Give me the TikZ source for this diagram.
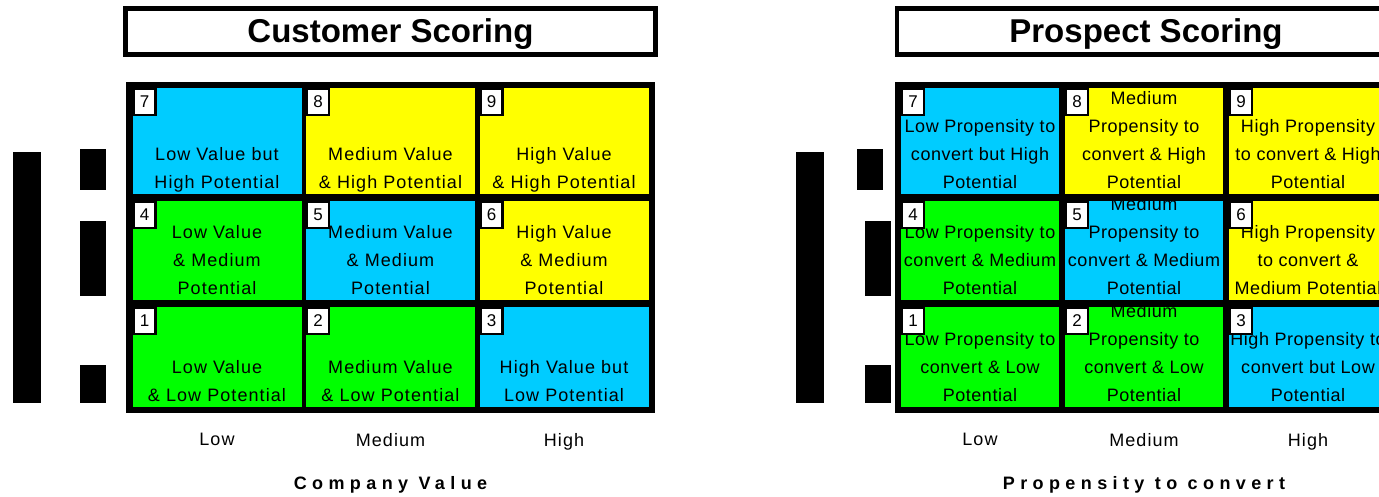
\documentclass[tikz,border=0pt]{standalone}
\usepackage{fontspec}
\setmainfont{Liberation Sans}
\newfontfamily\spacedfont[LetterSpace=30]{Liberation Sans}
\newfontfamily\custfont[LetterSpace=6]{Liberation Sans}
\newfontfamily\prosfont[LetterSpace=3]{Liberation Sans}
\usetikzlibrary{positioning}

\definecolor{skyblue}{RGB}{0,204,255}
\definecolor{scoregreen}{RGB}{0,255,0}
\definecolor{scoreyellow}{RGB}{255,255,0}

\begin{document}
\begin{tikzpicture}[x=1pt, y=-1pt,
  titlebox/.style={draw, line width=4.5pt, fill=white, minimum height=46pt, inner sep=0,
    text depth=2pt, font=\bfseries\fontsize{33}{38}\selectfont},
  custcell/.style={inner sep=0, minimum width=169pt},
  proscell/.style={inner sep=0, minimum width=158pt},
  hirow/.style={minimum height=106pt},
  midrow/.style={minimum height=99pt},
  lowrow/.style={minimum height=100pt},
  celltext/.style={anchor=south, inner sep=0, yshift=-2.4pt, align=center,
    font=\custfont\fontsize{18}{28}\selectfont, execute at end node=\strut},
  prostext/.style={celltext, font=\prosfont\fontsize{18}{28}\selectfont},
  numbox/.style={draw, line width=2.5pt, fill=white, inner sep=0, anchor=north west,
    minimum width=22pt, minimum height=26pt, font=\fontsize{17}{20}\selectfont},
  axislabel/.style={font=\custfont\fontsize{18}{22}\selectfont},
  axistitle/.style={font=\spacedfont\bfseries\fontsize{18}{22}\selectfont}]
  \useasboundingbox (0,0) rectangle (1379,496);

  % titles
  \node[titlebox, minimum width=530pt] (custtitle) at (390.5,31.5) {Customer Scoring};
  \node[titlebox, minimum width=498pt] (prostitle) at (1146,31.5) {Prospect Scoring};

  % grid frames
  \fill (126,82) rectangle (655,413);
  \fill (895,82) rectangle (1393,413);

  % customer grid
  \node[custcell, hirow, fill=skyblue] (cust7) at (217,141) {};
  \node[custcell, hirow, fill=scoreyellow] (cust8) at (390.5,141) {};
  \node[custcell, hirow, fill=scoreyellow] (cust9) at (564,141) {};
  \node[custcell, midrow, fill=scoregreen] (cust4) at (217,250.5) {};
  \node[custcell, midrow, fill=skyblue] (cust5) at (390.5,250.5) {};
  \node[custcell, midrow, fill=scoreyellow] (cust6) at (564,250.5) {};
  \node[custcell, lowrow, fill=scoregreen] (cust1) at (217,357) {};
  \node[custcell, lowrow, fill=scoregreen] (cust2) at (390.5,357) {};
  \node[custcell, lowrow, fill=skyblue] (cust3) at (564,357) {};

  \node[celltext] (cust7t) at (cust7.south) {Low Value but\\High Potential};
  \node[celltext] (cust8t) at (cust8.south) {Medium Value\\\& High Potential};
  \node[celltext] (cust9t) at (cust9.south) {High Value\\\& High Potential};
  \node[celltext] (cust4t) at (cust4.south) {Low Value\\\& Medium\\Potential};
  \node[celltext] (cust5t) at (cust5.south) {Medium Value\\\& Medium\\Potential};
  \node[celltext] (cust6t) at (cust6.south) {High Value\\\& Medium\\Potential};
  \node[celltext] (cust1t) at (cust1.south) {Low Value\\\& Low Potential};
  \node[celltext] (cust2t) at (cust2.south) {Medium Value\\\& Low Potential};
  \node[celltext] (cust3t) at (cust3.south) {High Value but\\Low Potential};

  \node[numbox] (cust7n) at (cust7.north west) {7};
  \node[numbox] (cust8n) at (cust8.north west) {8};
  \node[numbox] (cust9n) at (cust9.north west) {9};
  \node[numbox] (cust4n) at (cust4.north west) {4};
  \node[numbox] (cust5n) at (cust5.north west) {5};
  \node[numbox] (cust6n) at (cust6.north west) {6};
  \node[numbox] (cust1n) at (cust1.north west) {1};
  \node[numbox] (cust2n) at (cust2.north west) {2};
  \node[numbox] (cust3n) at (cust3.north west) {3};

  % prospect grid
  \node[proscell, hirow, fill=skyblue] (pros7) at (980,141) {};
  \node[proscell, hirow, fill=scoreyellow] (pros8) at (1144,141) {};
  \node[proscell, hirow, fill=scoreyellow] (pros9) at (1308,141) {};
  \node[proscell, midrow, fill=scoregreen] (pros4) at (980,250.5) {};
  \node[proscell, midrow, fill=skyblue] (pros5) at (1144,250.5) {};
  \node[proscell, midrow, fill=scoreyellow] (pros6) at (1308,250.5) {};
  \node[proscell, lowrow, fill=scoregreen] (pros1) at (980,357) {};
  \node[proscell, lowrow, fill=scoregreen] (pros2) at (1144,357) {};
  \node[proscell, lowrow, fill=skyblue] (pros3) at (1308,357) {};

  \node[prostext] (pros7t) at (pros7.south) {Low Propensity to\\convert but High\\Potential};
  \node[prostext] (pros8t) at (pros8.south) {Medium\\Propensity to\\convert \& High\\Potential};
  \node[prostext] (pros9t) at (pros9.south) {High Propensity\\to convert \& High\\Potential};
  \node[prostext] (pros4t) at (pros4.south) {Low Propensity to\\convert \& Medium\\Potential};
  \node[prostext] (pros5t) at (pros5.south) {Medium\\Propensity to\\convert \& Medium\\Potential};
  \node[prostext] (pros6t) at (pros6.south) {High Propensity\\to convert \&\\Medium Potential};
  \node[prostext] (pros1t) at (pros1.south) {Low Propensity to\\convert \& Low\\Potential};
  \node[prostext] (pros2t) at (pros2.south) {Medium\\Propensity to\\convert \& Low\\Potential};
  \node[prostext] (pros3t) at (pros3.south) {High Propensity to\\convert but Low\\Potential};

  \node[numbox] (pros7n) at (pros7.north west) {7};
  \node[numbox] (pros8n) at (pros8.north west) {8};
  \node[numbox] (pros9n) at (pros9.north west) {9};
  \node[numbox] (pros4n) at (pros4.north west) {4};
  \node[numbox] (pros5n) at (pros5.north west) {5};
  \node[numbox] (pros6n) at (pros6.north west) {6};
  \node[numbox] (pros1n) at (pros1.north west) {1};
  \node[numbox] (pros2n) at (pros2.north west) {2};
  \node[numbox] (pros3n) at (pros3.north west) {3};

  % axes
  \node[axislabel, below=22.5pt of cust1] (custlow) {Low};
  \node[axislabel, below=22.5pt of cust2] (custmed) {Medium};
  \node[axislabel, below=22.5pt of cust3] (custhigh) {High};
  \node[axistitle, below=23pt of custmed] (custaxis) {Company Value};
  \node[axislabel, below=22.5pt of pros1] (proslow) {Low};
  \node[axislabel, below=22.5pt of pros2] (prosmed) {Medium};
  \node[axislabel, below=22.5pt of pros3] (proshigh) {High};
  \node[axistitle, below=23pt of prosmed] (prosaxis) {Propensity to convert};

  % side bars
  \fill (13,152) rectangle (41,403);
  \fill (80,149) rectangle (106,190);
  \fill (80,221) rectangle (106,296);
  \fill (80,365) rectangle (106,403);
  \fill (796,152) rectangle (824,403);
  \fill (857,149) rectangle (883,190);
  \fill (865,221) rectangle (891,296);
  \fill (865,365) rectangle (891,403);
\end{tikzpicture}
\end{document}
